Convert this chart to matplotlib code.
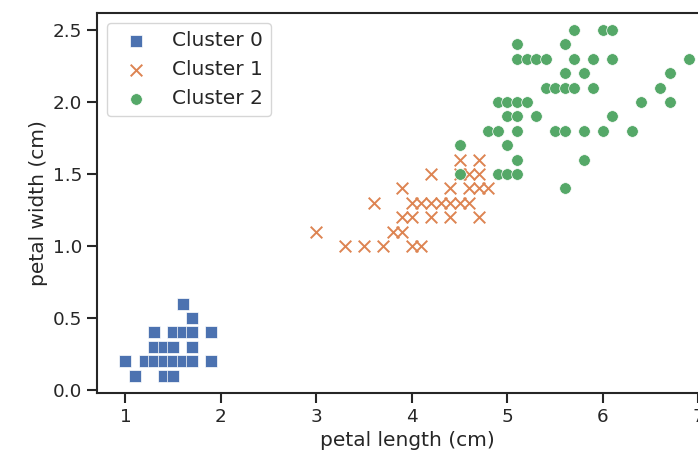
import matplotlib
matplotlib.use("Agg")
import matplotlib.pyplot as plt
import numpy as np

# ---- data (petal length, petal width) per cluster ----
c0_len = [1.1, 1.4, 1.5,
          1.0, 1.2, 1.3, 1.4, 1.5, 1.6, 1.7, 1.9,
          1.3, 1.4, 1.5, 1.7,
          1.3, 1.5, 1.6, 1.7, 1.9,
          1.7, 1.6]
c0_wid = [0.1, 0.1, 0.1,
          0.2, 0.2, 0.2, 0.2, 0.2, 0.2, 0.2, 0.2,
          0.3, 0.3, 0.3, 0.3,
          0.4, 0.4, 0.4, 0.4, 0.4,
          0.5, 0.6]

c1_len = [3.3, 3.5, 3.7, 4.0, 4.1,
          3.0, 3.8, 3.9,
          3.9, 4.0, 4.2, 4.4, 4.7,
          3.6, 4.0, 4.1, 4.2, 4.3, 4.4, 4.5, 4.6,
          3.9, 4.4, 4.6, 4.7, 4.8,
          4.2, 4.5, 4.6, 4.7,
          4.5, 4.7]
c1_wid = [1.0, 1.0, 1.0, 1.0, 1.0,
          1.1, 1.1, 1.1,
          1.2, 1.2, 1.2, 1.2, 1.2,
          1.3, 1.3, 1.3, 1.3, 1.3, 1.3, 1.3, 1.3,
          1.4, 1.4, 1.4, 1.4, 1.4,
          1.5, 1.5, 1.5, 1.5,
          1.6, 1.6]

c2_len = [5.6,
          4.5, 4.9, 5.0, 5.1,
          5.1, 5.8,
          4.5, 5.0,
          4.8, 4.9, 5.1, 5.5, 5.6, 5.8, 6.0, 6.3,
          5.0, 5.1, 5.3, 6.1,
          4.9, 5.0, 5.1, 5.2, 6.4, 6.7,
          5.4, 5.5, 5.6, 5.7, 5.9, 6.6,
          5.6, 5.8, 6.7,
          5.1, 5.2, 5.3, 5.4, 5.7, 5.9, 6.1, 6.9,
          5.1, 5.6,
          5.7, 6.0, 6.1]
c2_wid = [1.4,
          1.5, 1.5, 1.5, 1.5,
          1.6, 1.6,
          1.7, 1.7,
          1.8, 1.8, 1.8, 1.8, 1.8, 1.8, 1.8, 1.8,
          1.9, 1.9, 1.9, 1.9,
          2.0, 2.0, 2.0, 2.0, 2.0, 2.0,
          2.1, 2.1, 2.1, 2.1, 2.1, 2.1,
          2.2, 2.2, 2.2,
          2.3, 2.3, 2.3, 2.3, 2.3, 2.3, 2.3, 2.3,
          2.4, 2.4,
          2.5, 2.5, 2.5]

labels = ["Cluster 0", "Cluster 1", "Cluster 2"]
colors = ["#4C72B0", "#DD8452", "#55A868"]

dark = "#262626"
plt.rcParams.update({
    "font.family": ["DejaVu Sans"],
    "text.color": dark,
    "axes.labelcolor": dark,
    "xtick.color": dark,
    "ytick.color": dark,
    "axes.edgecolor": dark,
    "axes.linewidth": 1.5,
    "xtick.major.size": 7.2,
    "ytick.major.size": 7.2,
    "xtick.major.width": 1.5,
    "ytick.major.width": 1.5,
    "xtick.labelsize": 13.2,
    "ytick.labelsize": 13.2,
    "axes.labelsize": 14.5,
    "legend.fontsize": 14.5,
})

fig = plt.figure(figsize=(6.98, 4.58), dpi=100)
ax = fig.add_axes([97.3 / 698, 65 / 458, (717 - 97.3) / 698, (393 - 12.7) / 458])

s = 70
ax.scatter(c0_len, c0_wid, marker="s", s=s, c=colors[0], edgecolors="white",
           linewidths=0.5, label=labels[0], zorder=3)
ax.scatter(c1_len, c1_wid, marker="x", s=s, c=colors[1], linewidths=1.4,
           label=labels[1], zorder=3)
ax.scatter(c2_len, c2_wid, marker="o", s=s, c=colors[2], edgecolors="white",
           linewidths=0.5, label=labels[2], zorder=3)

ax.set_xlim(0.705, 7.195)
ax.set_ylim(-0.02, 2.62)
ax.set_xticks([1, 2, 3, 4, 5, 6, 7])
ax.set_yticks([0.0, 0.5, 1.0, 1.5, 2.0, 2.5])
ax.set_yticklabels(["0.0", "0.5", "1.0", "1.5", "2.0", "2.5"])
ax.set_xlabel("petal length (cm)")
ax.set_ylabel("petal width (cm)")

leg = ax.legend(loc="upper left", frameon=True, fancybox=True, framealpha=0.8,
                edgecolor="#cccccc", scatterpoints=1)

fig.savefig("out.png", dpi=100)
